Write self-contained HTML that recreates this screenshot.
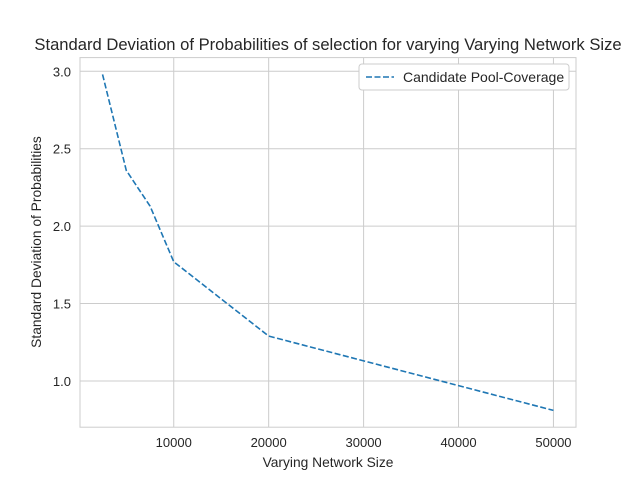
<!DOCTYPE html>
<html><head><meta charset="utf-8"><style>
body{margin:0;background:#fff;font-family:"Liberation Sans","DejaVu Sans",sans-serif}
svg text{font-family:"Liberation Sans","DejaVu Sans",sans-serif;fill:#262626}
</style></head><body>
<svg id="chart" width="640" height="480" xmlns="http://www.w3.org/2000/svg"></svg>
<script>
const xValues=[2500,5000,7500,10000,20000,50000];
const yValues=[2.98,2.36,2.13,1.77,1.29,0.81];
const xTicks=[10000,20000,30000,40000,50000];
const yTicks=[1.0,1.5,2.0,2.5,3.0];
const yTickLabels=["1.0","1.5","2.0","2.5","3.0"];
const seriesName="Candidate Pool-Coverage";

const L=80,R=576,T=57.6,B=427.2;
const xmin=125,xmax=52375,ymin=0.7015,ymax=3.0885;
const sx=v=>L+(v-xmin)/(xmax-xmin)*(R-L);
const sy=v=>B-(v-ymin)/(ymax-ymin)*(B-T);
const svg=document.getElementById('chart');
const NS='http://www.w3.org/2000/svg';
function mk(tag,attrs,parent){const e=document.createElementNS(NS,tag);for(const k in attrs)e.setAttribute(k,attrs[k]);(parent||svg).appendChild(e);return e;}

xTicks.forEach(t=>{
  const g=mk('line',{x1:sx(t),x2:sx(t),y1:T,y2:B,stroke:'#cccccc','stroke-width':1});
  
  
  const tx=mk('text',{x:sx(t),y:B+20,'text-anchor':'middle','font-size':13});
  tx.textContent=t;
  
  
});
yTicks.forEach((t,i)=>{
  const g=mk('line',{x1:L,x2:R,y1:sy(t),y2:sy(t),stroke:'#cccccc','stroke-width':1});
  
  
  const tx=mk('text',{x:L-9,y:sy(t)+5,'text-anchor':'end','font-size':13});
  tx.textContent=yTickLabels[i];
  
  
});
const frame=mk('rect',{x:L,y:T,width:R-L,height:B-T,fill:'none',stroke:'#cccccc','stroke-width':1});



const pts=xValues.map((x,i)=>sx(x)+','+sy(yValues[i])).join(' ');
const line=mk('polyline',{points:pts,fill:'none',stroke:'#1f77b4','stroke-width':1.6,'stroke-dasharray':'6,2.5'});



const title=mk('text',{x:328,y:50,'text-anchor':'middle','font-size':16.6});
title.textContent='Standard Deviation of Probabilities of selection for varying Varying Network Size';


const xl=mk('text',{x:328,y:467,'text-anchor':'middle','font-size':13.8});
xl.textContent='Varying Network Size';


const yl=mk('text',{x:41,y:242,'text-anchor':'middle','font-size':13.8,transform:'rotate(-90 41 242)'});
yl.textContent='Standard Deviation of Probabilities';



const lg=mk('g',{});


mk('rect',{x:359,y:64,width:210,height:26,rx:3,fill:'#fff',stroke:'#cccccc'},lg);
const ll=mk('line',{x1:366,x2:394,y1:77,y2:77,stroke:'#1f77b4','stroke-width':1.6,'stroke-dasharray':'6,2.5'},lg);


const lt=mk('text',{x:403,y:82,'font-size':14},lg);
lt.textContent=seriesName;


</script>
</body></html>
